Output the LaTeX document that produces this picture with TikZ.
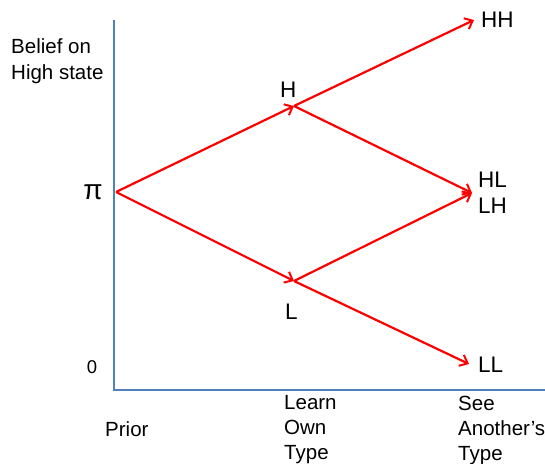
\documentclass[tikz,border=0pt]{standalone}
\usepackage{fontspec}
\setmainfont{Liberation Sans}
\usetikzlibrary{arrows.meta}
\definecolor{axisblue}{RGB}{79,129,189}
\begin{document}
\begin{tikzpicture}[x=1pt,y=-1pt,
  axis/.style={draw=axisblue,line width=2.2pt},
  branch/.style={draw=red,line width=2.2pt,-{Straight Barb[length=7pt,width=12pt,line width=2pt]}},
  big/.style={font=\fontsize{22.5}{24}\selectfont,inner sep=0pt},
  lab/.style={font=\fontsize{20.5}{25}\selectfont,inner sep=0pt,align=left}]
\useasboundingbox (0,0) rectangle (545,463);
\coordinate (top) at (114,20);
\coordinate (orig) at (114,390);
\coordinate (right) at (545,390);
\draw[axis] (top) -- (orig) -- (right);
\coordinate (P) at (116,192);
\coordinate (H) at (294,106);
\coordinate (L) at (294,281);
\coordinate (HH) at (474,20);
\coordinate (HL) at (472,193);
\coordinate (LL) at (469,364);
\draw[branch] (P) -- (H);
\draw[branch] (P) -- (L);
\draw[branch] (H) -- (HH);
\draw[branch] (H) -- (HL);
\draw[branch] (L) -- (HL);
\draw[branch] (L) -- (LL);
\node[lab,anchor=west,font=\fontsize{20.5}{26}\selectfont] (belief) at (11,61) {Belief on\\High state};
\node[inner sep=0pt,font=\fontsize{28}{30}\selectfont] (pi) at (93,192) {π};
\node[inner sep=0pt,font=\fontsize{18.5}{20}\selectfont] (zero) at (92,367) {0};
\node[big,anchor=west] (hl) at (280,90) {H};
\node[big,anchor=west] (ll) at (285,312) {L};
\node[big,anchor=west] (hhl) at (481,20) {HH};
\node[big,anchor=west,align=left] (hllh) at (478,193) {HL\\[2pt]LH};
\node[big,anchor=west] (lll) at (478,365) {LL};
\node[lab,anchor=west] (prior) at (105,429) {Prior};
\node[lab,anchor=west] (learn) at (284,430) {Learn\\Own\\Type};
\node[lab,anchor=west] (see) at (458,430) {See\\Another’s\\Type};
\end{tikzpicture}
\end{document}
